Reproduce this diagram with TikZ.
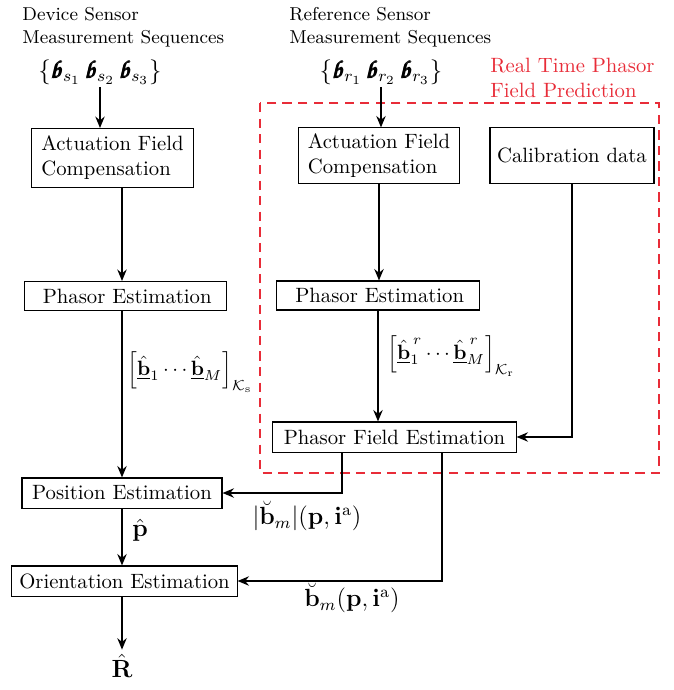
\documentclass[tikz,border=0pt]{standalone}
\usepackage{amsmath,amssymb}
\usepackage{xcolor}
\usepackage{tikz}
\usetikzlibrary{arrows.meta,positioning,calc}
\DeclareMathAlphabet{\mathpzc}{OT1}{pzc}{m}{it}
\definecolor{predred}{RGB}{232,44,56}
\newcommand{\seqb}{\pmb{\mathpzc{b}}}
\newcommand{\hatub}{\hat{\underline{\mathbf{b}}}}

\begin{document}
\begin{tikzpicture}[x=0.483pt,y=-0.483pt,
    >={Stealth[length=5.5pt,width=4.5pt]},
    blk/.style={draw,line width=0.5pt,inner sep=2pt},
    flow/.style={->,line width=0.9pt},
    lbl/.style={inner sep=0pt,align=left,anchor=west}]
    \useasboundingbox (0,0) rectangle (674,690);

    % Device side: sequences and compensation.
    \node[lbl,font=\small] (devlab) at (22,27) {Device Sensor\\Measurement Sequences};
    \node[inner sep=1pt,font=\large] (devset) at (100,72)
      {$\{\seqb_{s_1}\,\seqb_{s_2}\,\seqb_{s_3}\}$};
    \node[blk,align=left,minimum width=77.8pt,minimum height=28.5pt] (devafc) at (112.5,158)
      {Actuation Field\\Compensation};
    \node[blk,minimum width=98pt,minimum height=14pt] (devpe) at (125.5,296) {\,Phasor Estimation};
    \node[blk,minimum width=96.6pt,minimum height=14.5pt] (pos) at (122,493) {Position Estimation};
    \node[blk,minimum width=108.7pt,minimum height=14.5pt] (ori) at (124.5,581) {Orientation Estimation};
    \node[font=\large,inner sep=2pt] (Rhat) at (122,666) {$\hat{\mathbf{R}}$};

    % Reference side, inside the prediction region.
    \node[lbl,font=\small] (reflab) at (289,27) {Reference Sensor\\Measurement Sequences};
    \node[inner sep=1pt,font=\large] (refset) at (381,72)
      {$\{\seqb_{r_1}\,\seqb_{r_2}\,\seqb_{r_3}\}$};
    \node[lbl,text=predred] (predlab) at (490,78) {Real Time Phasor\\Field Prediction};
    \draw[predred,dash pattern=on 4.5pt off 3pt,line width=0.5pt] (260,103) rectangle (659,473);
    \node[blk,align=left,minimum width=77.3pt,minimum height=26.6pt] (refafc) at (379,155.5)
      {Actuation Field\\Compensation};
    \node[blk,minimum width=79.2pt,minimum height=27.5pt] (calib) at (572,155.5) {Calibration data};
    \node[blk,minimum width=97.6pt,minimum height=14pt] (refpe) at (378,295.5) {\,Phasor Estimation};
    \node[blk,minimum width=117.4pt,minimum height=14.5pt] (pfe) at (394.5,437) {Phasor Field Estimation};

    % Flujo izquierdo.
    \draw[flow] (devset.south) -- (devset.south |- devafc.north);
    \draw[flow] (pos.north |- devafc.south) -- (pos.north |- devpe.north);
    \draw[flow] (pos.north |- devpe.south) -- (pos.north);
    \draw[flow] (pos.south) -- (pos.south |- ori.north);
    \draw[flow] (pos.south |- ori.south) -- (Rhat.north);
    \node[lbl] (bsdev) at (127,372)
      {$\left[\hatub_1\cdots\hatub_M\right]_{\mathcal{K}_\mathrm{s}}$};
    \node[lbl,font=\large] (phat) at (132,530) {$\hat{\mathbf{p}}$};

    % Flujo derecho.
    \draw[flow] (refset.south) -- (refset.south |- refafc.north);
    \draw[flow] (refafc.south) -- (refafc.south |- refpe.north);
    \draw[flow] (refpe.south) -- (refpe.south |- pfe.north);
    \draw[flow] (calib.south) |- (pfe.east);
    \node[lbl] (bsref) at (387,356)
      {$\left[\hatub_1^{\,r}\cdots\hatub_M^{\,r}\right]_{\mathcal{K}_\mathrm{r}}$};

    % Predicted field back to the estimators.
    \coordinate (magtap) at (342,492);
    \coordinate (fieldtap) at (442,580);
    \draw[flow] (pfe.south -| magtap) |- (pos.east);
    \draw[flow] (pfe.south -| fieldtap) |- (ori.east);
    \node[font=\large] (maglab) at (307,516)
      {$\lvert\breve{\mathbf{b}}_m\rvert(\mathbf{p},\mathbf{i}^\mathrm{a})$};
    \node[font=\large] (fieldlab) at (352,598)
      {$\breve{\mathbf{b}}_m(\mathbf{p},\mathbf{i}^\mathrm{a})$};
  \end{tikzpicture}
\end{document}
